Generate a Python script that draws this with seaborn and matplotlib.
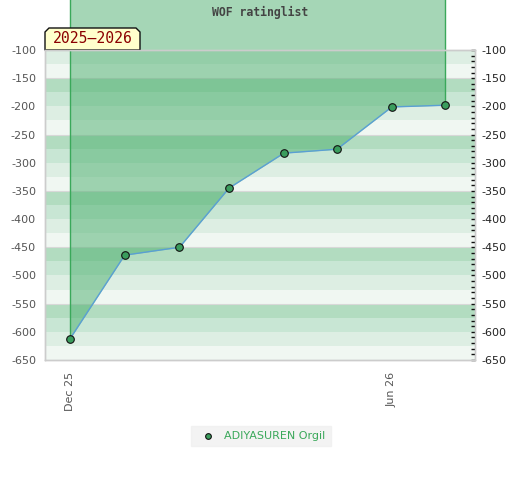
import matplotlib
matplotlib.use("Agg")
import matplotlib.pyplot as plt
import matplotlib.dates as mdates
from matplotlib.patches import Polygon
import seaborn as sns
import pandas as pd
import numpy as np

# ====== Data ======
dates = ["2025-12-01", "2026-01-01", "2026-02-01", "2026-03-01",
         "2026-04-01", "2026-05-01", "2026-06-01", "2026-07-01"]
rating = [-613, -464, -450, -345, -283, -276, -201, -198]
player = "ADIYASUREN Orgil"
season = "2025\u20132026"
title = "WOF ratinglist"
band_colors = ["#b2dcc0", "#c8e6d4", "#ddeee3", "#f0f7f2"]

df = pd.DataFrame({"date": pd.to_datetime(dates), "rating": rating})

sns.set_theme(style="white")
plt.rcParams["font.family"] = ["DejaVu Sans"]

fig = plt.figure(figsize=(5.2, 4.8), dpi=100)
ax = fig.add_axes([45 / 520, 120 / 480, 430 / 520, 310 / 480])

# ====== background bands (25 units each, 4-colour cycle) ======
for i, top in enumerate(range(-100, -650, -25)):
    col = band_colors[(i + 2) % 4]
    ax.axhspan(top - 25, top, color=col, lw=0, zorder=0)
for y in range(-150, -650, -100):
    ax.axhline(y, color="#d8d8d8", lw=0.8, zorder=0.5)

# ====== fill above the line, going up out of the plot ======
ax.fill_between(df["date"], df["rating"], 0, color="#4caf6e", alpha=0.5,
                lw=0, zorder=1, clip_on=False)
ax.vlines([df["date"].iloc[0], df["date"].iloc[-1]],
          [df["rating"].iloc[0], df["rating"].iloc[-1]], 0,
          color="#3aa85a", lw=1, zorder=2, clip_on=False)

sns.lineplot(data=df, x="date", y="rating", ax=ax, color="#5a9fd4", lw=1,
             zorder=3, legend=False)
ax.scatter(df["date"], df["rating"], s=30, color="#3a9d5d", edgecolor="#111",
           lw=0.8, zorder=4, label=player, clip_on=False)

ax.set_xlim(pd.Timestamp("2025-11-17"), pd.Timestamp("2026-07-18"))
ax.set_ylim(-650, -100)
ax.set_xlabel("")
ax.set_ylabel("")

yt = np.arange(-100, -651, -50)
ax.set_yticks(yt)
ax.set_yticklabels([str(v) for v in yt], fontsize=8, color="#555555")
ax.tick_params(axis="y", left=False, length=0, pad=6.5)

ax.xaxis.set_major_locator(mdates.MonthLocator(bymonth=[6, 12]))
ax.xaxis.set_major_formatter(mdates.DateFormatter("%b %y"))
plt.setp(ax.get_xticklabels(), rotation=90, fontsize=8, color="#555555")
ax.tick_params(axis="x", bottom=False, length=0, pad=8.5)

# right axis with minor ticks
ax2 = ax.twinx()
ax2.set_ylim(-650, -100)
ax2.set_yticks(yt)
ax2.set_yticklabels([str(v) for v in yt], fontsize=8, color="#222222")
ax2.set_yticks(np.arange(-100, -651, -10), minor=True)
ax2.tick_params(axis="y", which="major", direction="in", length=3, width=1,
                color="#111", pad=5, right=True)
ax2.tick_params(axis="y", which="minor", direction="in", length=3, width=1,
                color="#111", right=True)
ax2.grid(False)

for a in (ax, ax2):
    for s in a.spines.values():
        s.set_color("#cccccc")
        s.set_linewidth(1)

# ====== season label ======
bx0, bx1 = 0.0, 95 / 430
by0, by1 = 1.0, 1 + 22 / 310
cx, cy = 4 / 430, 4 / 310
box = Polygon([(bx0, by0), (bx0, by1 - cy), (bx0 + cx, by1), (bx1 - cx, by1),
               (bx1, by1 - cy), (bx1, by0)], closed=True, transform=ax.transAxes,
              facecolor="#ffffcc", edgecolor="#111", lw=1, zorder=10, clip_on=False)
ax.add_patch(box)
ax.text((bx0 + bx1) / 2, (by0 + by1) / 2, season, transform=ax.transAxes,
        ha="center", va="center", fontsize=10.6, color="#8b0000",
        family="DejaVu Sans Mono", zorder=11)

fig.text(260 / 520, 1 - 12 / 480, title, ha="center", va="center", fontsize=8.3,
         family="DejaVu Sans Mono", weight="bold", color="#444444")

leg = fig.legend(loc="center", bbox_to_anchor=(261 / 520, 1 - 436 / 480),
                 frameon=True, fontsize=8, handletextpad=0.5, markerscale=0.75,
                 borderpad=0.45, fancybox=False)
leg.get_frame().set_facecolor("#f0f0f0")
leg.get_frame().set_edgecolor("#f0f0f0")
for t in leg.get_texts():
    t.set_color("#3aa85a")

fig.savefig("out.png", dpi=100)
